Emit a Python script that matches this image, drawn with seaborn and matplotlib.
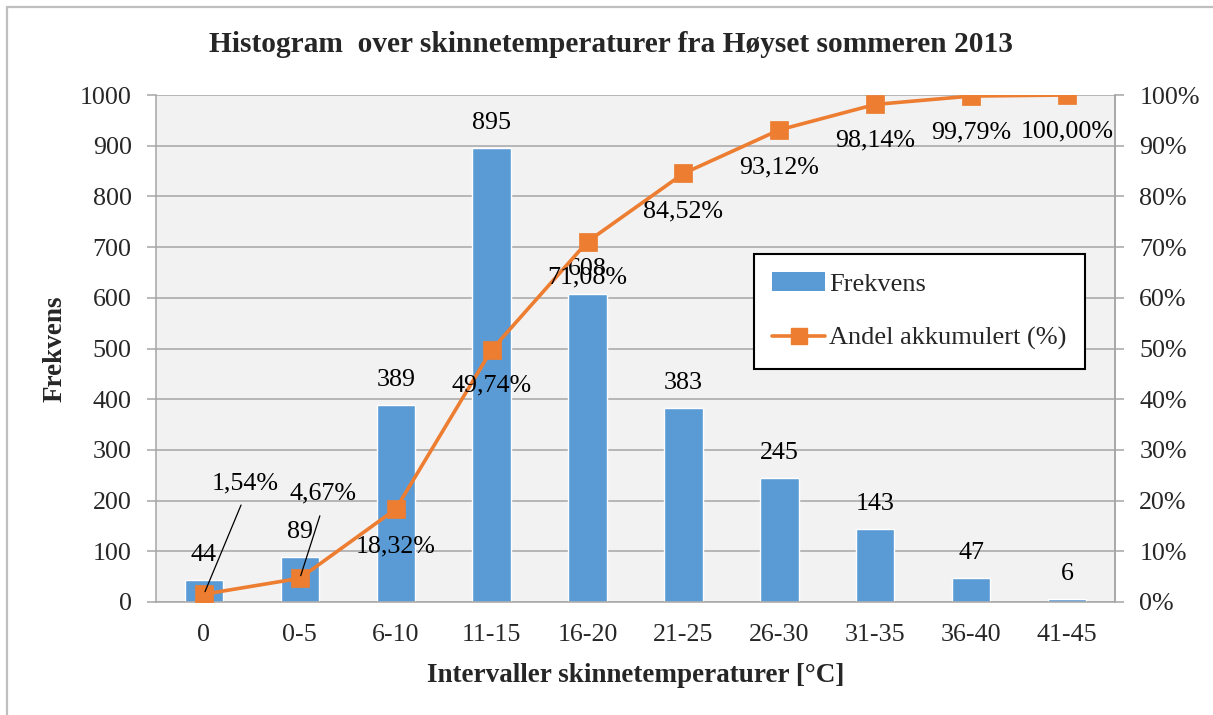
import numpy as np
import pandas as pd
import matplotlib
matplotlib.use("Agg")
import matplotlib.pyplot as plt
from matplotlib.patches import Patch
from matplotlib.lines import Line2D
import seaborn as sns

# Temperature intervals and counts
categories = ["0", "0-5", "6-10", "11-15", "16-20", "21-25", "26-30", "31-35", "36-40", "41-45"]
frekvens = [44, 89, 389, 895, 608, 383, 245, 143, 47, 6]
akkumulert = [1.54, 4.67, 18.32, 49.74, 71.08, 84.52, 93.12, 98.14, 99.79, 100.00]

left_ticks = [0, 100, 200, 300, 400, 500, 600, 700, 800, 900, 1000]
right_ticks = [0, 10, 20, 30, 40, 50, 60, 70, 80, 90, 100]

df = pd.DataFrame({"Intervall": categories, "Frekvens": frekvens, "Akkumulert": akkumulert})

BAR = "#5B9BD5"
LINE = "#ED7D31"
GRID = "#A6A6A6"
FS = 18.7

sns.set_theme(style="white")
plt.rcParams["font.family"] = ["Liberation Serif", "DejaVu Serif"]

W, H = 1213, 715
fig = plt.figure(figsize=(W / 100, H / 100), dpi=100)
ax1 = fig.add_axes([156 / W, 1 - 602 / H, (1115 - 156) / W, (602 - 95) / H])
ax1.set_facecolor("#F2F2F2")

sns.barplot(data=df, x="Intervall", y="Frekvens", color=BAR, width=0.4,
            saturation=1, ax=ax1, zorder=2)
ax1.set_xlim(-0.5, len(categories) - 0.5)
ax1.set_ylim(0, 1000)
ax1.set_yticks(left_ticks)
ax1.set_axisbelow(True)
ax1.yaxis.grid(True, color=GRID, linewidth=1.1)
ax1.xaxis.grid(False)
for side, sp in ax1.spines.items():
    sp.set_color(GRID)
    sp.set_linewidth(1.1)
ax1.spines["top"].set_visible(False)

# x ticks sit on the category boundaries, labels in the centre
ax1.set_xticks(np.arange(len(categories) + 1) - 0.5, minor=False)
ax1.set_xticklabels([])
ax1.set_xticks(np.arange(len(categories)), minor=True)
ax1.set_xticklabels(categories, minor=True, fontsize=FS)
ax1.tick_params(axis="x", which="major", direction="out", length=6, width=1.1, color=GRID)
ax1.tick_params(axis="x", which="minor", length=0, pad=16)
ax1.tick_params(axis="y", direction="out", length=6.5, width=1.1, color=GRID,
                labelsize=FS, pad=11, left=True)

ax1.set_xlabel("Intervaller skinnetemperaturer [°C]", fontsize=19.5, fontweight="bold", labelpad=12)
ax1.set_ylabel("Frekvens", fontsize=19.5, fontweight="bold", labelpad=9)

for i, v in enumerate(frekvens):
    ax1.annotate(f"{v}", (i, v), xytext=(0, 18), textcoords="offset points",
                 ha="center", va="center", fontsize=FS, color="black", zorder=5)

# Cumulative share on the secondary axis
ax2 = ax1.twinx()
ax2.patch.set_visible(False)
sns.pointplot(data=df, x="Intervall", y="Akkumulert", color=LINE, markers="s",
              linestyles="-", markersize=11, linewidth=2.6, errorbar=None, ax=ax2)
ax2.set_xlim(-0.5, len(categories) - 0.5)
ax2.set_ylim(0, 100)
ax2.set_yticks(right_ticks)
ax2.set_yticklabels([f"{t}%" for t in right_ticks])
ax2.set_ylabel("")
ax2.set_xlabel("")
ax2.tick_params(axis="y", direction="out", length=6.5, width=1.1, color=GRID,
                labelsize=FS, pad=11, right=True)
ax2.tick_params(axis="x", which="both", length=0, labelbottom=False)
for sp in ax2.spines.values():
    sp.set_visible(False)
ax2.spines["right"].set_visible(True)
ax2.spines["right"].set_color(GRID)
ax2.spines["right"].set_linewidth(1.1)

label_offsets = [(30, 80), (17, 61), (0, -27), (0, -26), (0, -26),
                 (0, -27), (0, -27), (0, -26), (0, -26), (0, -26)]
for i, (v, off) in enumerate(zip(akkumulert, label_offsets)):
    txt = f"{v:.2f}".replace(".", ",") + "%"
    arrow = None
    if off[1] > 0:
        arrow = dict(arrowstyle="-", color="black", lw=0.9, shrinkA=6, shrinkB=2,
                     relpos=(0.5, 0.0))
    ax2.annotate(txt, (i, v), xytext=off, textcoords="offset points",
                 ha="center", va="center", fontsize=FS, color="black",
                 arrowprops=arrow, zorder=6)

handles = [Patch(facecolor=BAR, edgecolor="none"),
           Line2D([0], [0], color=LINE, lw=2.6, marker="s", markersize=11)]
leg = fig.legend(handles, ["Frekvens", "Andel akkumulert (%)"],
                 loc="upper left", bbox_to_anchor=(754 / W, 1 - 254 / H),
                 fontsize=19, frameon=True, fancybox=False, framealpha=1,
                 edgecolor="black", borderpad=0.7, labelspacing=1.15,
                 handlelength=2.0, handletextpad=0.15, borderaxespad=0)
leg.get_frame().set_linewidth(1.5)

fig.text(611 / W, 1 - 45 / H, "Histogram  over skinnetemperaturer fra Høyset sommeren 2013",
         ha="center", va="center", fontsize=21.2, fontweight="bold")

# chart area border
fig.add_artist(Line2D([7 / W, 7 / W], [0, 1 - 7 / H], transform=fig.transFigure,
                      color="#BFBFBF", lw=1.6))
fig.add_artist(Line2D([7 / W, 1], [1 - 7 / H, 1 - 7 / H], transform=fig.transFigure,
                      color="#BFBFBF", lw=1.6))

fig.savefig("out.png", dpi=100, facecolor="white")
